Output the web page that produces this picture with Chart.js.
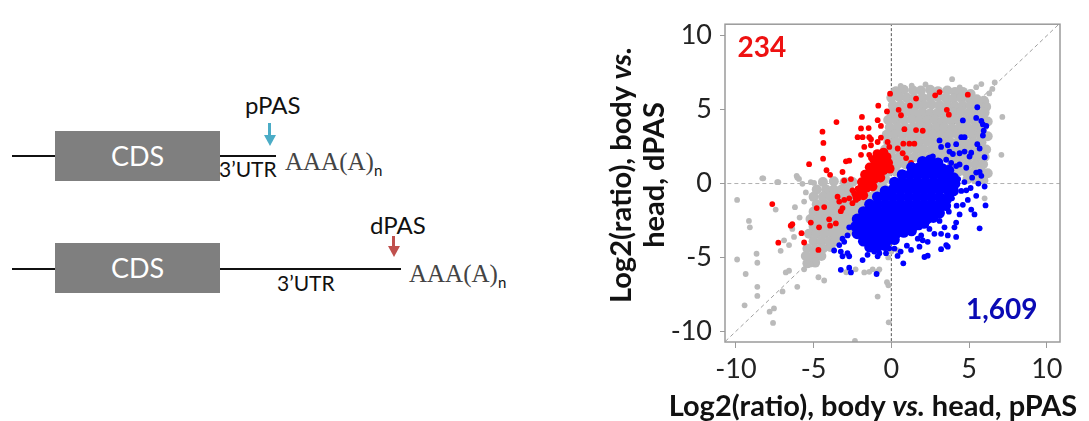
<!DOCTYPE html>
<html>
<head>
<meta charset="utf-8">
<script src="https://cdn.jsdelivr.net/npm/chart.js@4.4.0/dist/chart.umd.min.js"></script>
<style>
  body { margin: 0; width: 1089px; height: 421px; background: #fff; position: relative; overflow: hidden; font-family: Lato, "Open Sans", sans-serif; }
  .hline { position: absolute; height: 1.5px; background: #111; }
  .cds { position: absolute; width: 165px; height: 50px; background: #7f7f7f; color: #fff; font-size: 27px; line-height: 50px; text-align: center; }
  .utr { position: absolute; font-size: 21px; color: #111; line-height: 1; }
  .pas { position: absolute; font-size: 24px; color: #111; line-height: 1; }
  .polya { position: absolute; font-family: "Liberation Serif", "DejaVu Serif", serif; font-size: 25px; color: #444; line-height: 1; }
  .polya sub { font-family: Lato, sans-serif; font-size: 15px; color: #111; }
  .stem { position: absolute; width: 3px; }
  .head { position: absolute; width: 0; height: 0; border-left: 6px solid transparent; border-right: 6px solid transparent; }
  #chartBox { position: absolute; left: 580px; top: 0; width: 509px; height: 421px; }
  .axTitle { position: absolute; font-weight: bold; font-size: 29px; color: #111; white-space: nowrap; text-align: center; }
</style>
</head>
<body>

<!-- transcript diagram -->
<div class="hline" style="left:12px; top:155px; width:43px;"></div>
<div class="cds" style="left:55px; top:131px;">CDS</div>
<div class="hline" style="left:220px; top:155px; width:56px;"></div>
<div class="utr" style="left:219px; top:158px;">3’UTR</div>
<div class="pas" style="left:245px; top:93px;">pPAS</div>
<div class="stem" style="left:268px; top:123px; height:13px; background:#4bacc6;"></div>
<div class="head" style="left:263.5px; top:135px; border-top:11px solid #4bacc6;"></div>
<div class="polya" style="left:285px; top:149px;">AAA(A)<sub>n</sub></div>

<div class="hline" style="left:12px; top:268px; width:43px;"></div>
<div class="cds" style="left:55px; top:243px;">CDS</div>
<div class="hline" style="left:220px; top:268px; width:181px;"></div>
<div class="utr" style="left:277px; top:272px;">3’UTR</div>
<div class="pas" style="left:370px; top:213px;">dPAS</div>
<div class="stem" style="left:392px; top:236px; height:11px; background:#c0504d;"></div>
<div class="head" style="left:387.5px; top:246px; border-top:11px solid #c0504d;"></div>
<div class="polya" style="left:409px; top:261px;">AAA(A)<sub>n</sub></div>

<!-- scatter -->
<div id="chartBox"><canvas id="scatter"></canvas></div>
<div class="axTitle" style="left:486px; top:142px; width:300px; line-height:33px; transform:rotate(-90deg);">Log2(ratio), body <i>vs.</i><br>head, dPAS</div>
<div class="axTitle" style="left:873px; top:390px; transform:translateX(-50%); line-height:30px;">Log2(ratio), body <i>vs.</i> head, pPAS</div>

<script>
// axis ticks and counts
var xTicks = [-10, -5, 0, 5, 10];
var yTicks = [-10, -5, 0, 5, 10];
var upCount = "234";
var downCount = "1,609";

// dense gray cloud (drawn with bigger dots)
var grayCore = [
  [0.3,6.25],[0.8,6.35],[1.4,6.3],[1.9,6.3],[2.5,6.35],[3.0,6.25],[3.6,6.3],[4.1,6.2],[4.6,6.2],[5.1,6.05],
  [0.0,5.8],[0.5,5.85],[1.0,5.8],[1.5,5.75],[2.0,5.8],[2.5,5.8],[3.0,5.85],[3.5,5.8],[4.0,5.75],[4.5,5.8],[5.0,5.8],[5.5,5.7],[5.95,5.6],
  [0.1,5.3],[0.6,5.3],[1.1,5.25],[1.6,5.3],[2.1,5.3],[2.6,5.35],[3.1,5.3],[3.6,5.3],[4.1,5.25],[4.6,5.3],[5.1,5.3],[5.6,5.3],[6.1,5.2],
  [0.0,4.8],[0.5,4.8],[1.0,4.85],[1.5,4.8],[2.0,4.8],[2.5,4.75],[3.0,4.8],[3.5,4.8],[4.0,4.8],[4.5,4.85],[5.0,4.8],[5.5,4.8],[6.0,4.8],
  [-0.2,4.3],[0.3,4.3],[0.8,4.3],[1.3,4.35],[1.8,4.3],[2.3,4.3],[2.8,4.3],[3.3,4.25],[3.8,4.3],[4.3,4.3],[4.8,4.3],[5.3,4.3],[5.8,4.3],[6.2,4.2],
  [-0.1,3.8],[0.4,3.8],[0.9,3.8],[1.4,3.8],[1.9,3.85],[2.4,3.8],[2.9,3.8],[3.4,3.8],[3.9,3.75],[4.4,3.8],[4.9,3.8],[5.4,3.8],[5.9,3.8],
  [-0.3,3.3],[0.2,3.3],[0.7,3.3],[1.2,3.3],[1.7,3.25],[2.2,3.3],[2.7,3.3],[3.2,3.3],[3.7,3.3],[4.2,3.35],[4.7,3.3],[5.2,3.3],[5.7,3.3],[6.2,3.2],
  [-0.2,2.8],[0.3,2.8],[0.8,2.8],[1.3,2.8],[1.8,2.8],[2.3,2.85],[2.8,2.8],[3.3,2.8],[3.8,2.8],[4.3,2.8],[4.8,2.75],[5.3,2.8],[5.8,2.8],
  [-0.4,2.3],[0.1,2.3],[0.6,2.3],[1.1,2.3],[1.6,2.3],[2.1,2.3],[2.6,2.3],[3.1,2.25],[3.6,2.3],[4.1,2.3],[4.6,2.3],[5.1,2.3],[5.6,2.3],[6.1,2.3],
  [-0.5,1.8],[0.0,1.8],[0.5,1.8],[1.0,1.8],[1.5,1.8],[2.0,1.85],[2.5,1.8],[3.0,1.8],[3.5,1.8],[4.0,1.8],[4.5,1.8],[5.0,1.8],[5.5,1.8],[6.0,1.8],
  [-0.6,1.3],[-0.1,1.3],[0.4,1.3],[0.9,1.3],[3.9,1.3],[4.4,1.3],[4.9,1.3],[5.4,1.3],[5.9,1.3],
  [-0.7,0.8],[-0.2,0.8],[0.3,0.8],[4.3,0.8],[4.8,0.8],[5.3,0.8],[5.8,0.8],[6.2,0.7],
  [-0.9,0.3],[-0.4,0.3],[4.9,0.3],[5.4,0.3],[5.9,0.3],
  [-4.4,0.1],[-3.7,0.15],[-3.0,0.1],[-2.5,0.1],
  [-4.8,-0.4],[-4.2,-0.4],[-3.7,-0.4],[-3.2,-0.4],[-2.7,-0.4],[-1.0,-0.4],[-0.6,-0.2],
  [-5.0,-0.9],[-4.4,-0.9],[-3.9,-0.9],[-3.4,-0.9],[-2.9,-0.9],[-2.4,-0.9],[-1.9,-0.9],[-1.4,-0.9],[-0.9,-0.7],
  [-4.8,-1.4],[-4.3,-1.4],[-3.8,-1.4],[-3.3,-1.4],[-2.8,-1.4],[-2.3,-1.4],[-1.8,-1.4],[-1.4,-1.2],
  [-5.0,-1.9],[-4.5,-1.9],[-4.0,-1.9],[-3.5,-1.9],[-3.0,-1.9],[-2.5,-1.9],[-2.0,-1.8],
  [-5.2,-2.4],[-4.7,-2.4],[-4.2,-2.4],[-3.7,-2.4],[-3.2,-2.4],[-2.7,-2.4],
  [-5.0,-2.9],[-4.5,-2.9],[-4.0,-2.9],[-3.5,-2.9],[-3.0,-2.9],[-2.5,-2.8],
  [-5.3,-3.4],[-4.8,-3.4],[-4.3,-3.4],[-3.8,-3.4],[-3.3,-3.4],[-2.8,-3.3],
  [-5.0,-3.9],[-4.5,-3.9],[-4.0,-3.9],[-3.6,-3.9],
  [-5.4,-4.4],[-4.9,-4.4],[-4.4,-4.4],[-3.9,-4.3],
  [-5.5,-4.9],[-5.0,-4.9],[-4.5,-4.9],
  [-5.4,-5.4],[-4.9,-5.35]
];

// single gray points
var grayPts = [
  [-9.92,-1.11],[-9.16,-2.53],[-9.1,-2.96],[-9.92,-5.14],[-8.67,-4.75],[-8.62,-5.36],[-9.37,-6.12],[-8.62,-6.99],
  [-7.27,0.09],[-8.24,0.35],[-7.44,-1.76],[-6.9,-3.84],[-6.26,-3.61],[-5.61,-1.22],[-6.05,0.41],[-5.72,-0.02],
  [-5.18,0.09],[-6.37,-3.07],[-6.58,-4.16],[-6.79,-6.01],[-6.58,-5.9],[-5.61,-5.8],[-4.69,-6.34],[-4.32,-6.56],
  [-7.12,-4.55],[-5.08,-4.6],[-5.29,-5.03],[-4.86,-5.36],[-5.18,-5.47],[-6.05,-6.99],[-7.0,-7.3],
  [-1.2,-5.8],[-0.88,-5.95],[-1.74,-6.01],[-1.42,-5.97],[-0.28,-6.67],[-0.19,-6.88],[-0.88,-7.65],[-0.77,-5.8],
  [-9.44,-8.24],[-8.62,-7.6],[-7.83,-8.67],[-7.55,-8.45],[-7.61,-9.43],[-0.17,-9.39],[-2.34,-10.65],
  [-8.3,0.35],[-7.34,0.09],[-6.09,0.52],[-5.94,0.31],[-4.97,0.04],[-5.5,-0.6],[-6.2,-1.6],[-5.9,-2.3],
  [1.31,6.62],[3.91,7.06],[5.46,6.52],[5.79,6.73],[6.65,6.84],[6.3,6.1],[6.5,6.4],[7.14,4.51],[7.08,1.94],
  [6.11,5.54],[6.06,0.2],[6.0,-1.0],[0.0,-4.6],[0.4,-4.5],[-0.2,-5.0],[-2.9,-6.0],[-2.3,-5.8],
  [-1.6,-1.4],[-1.2,-1.0],[-0.8,-0.6],[-0.4,-0.2],[0.0,0.2],[-2.0,-1.6],[2.2,6.7],[0.6,6.6],[4.4,6.5]
];

// dense red cluster
var redCore = [
  [-2.2,-0.9],[-1.8,-0.8],[-2.0,-0.4],[-1.6,-0.3],[-1.2,-0.2],[-1.9,0.1],[-1.5,0.2],[-1.1,0.3],[-0.7,0.4],
  [-1.7,0.6],[-1.3,0.7],[-0.9,0.8],[-0.5,0.9],[-1.4,1.1],[-1.0,1.2],[-0.6,1.3],[-0.2,1.4],[-1.1,1.6],
  [-0.7,1.7],[-0.3,1.8],[-0.9,2.0],[-0.5,2.1],[-0.1,1.0]
];

// single red points
var redPts = [
  [-0.08,6.08],[-0.84,5.27],[-0.28,4.88],[-3.53,4.16],[-1.89,4.51],[-0.88,4.29],[-0.67,3.9],[-1.95,3.73],
  [-1.46,3.75],[-4.43,3.51],[-2.17,3.14],[-1.85,3.14],[-1.42,3.14],[-1.31,3.0],[-0.67,3.1],[-4.37,2.75],
  [-1.74,2.48],[-1.31,2.59],[-0.88,2.81],[-0.24,2.81],[-0.13,2.48],[-4.39,1.68],[-5.29,1.31],[-2.92,1.5],
  [-2.71,1.55],[-1.95,1.94],[-1.42,1.94],[-1.31,1.72],[-4.17,0.9],[-3.94,0.59],[-3.14,0.78],[-3.03,0.2],
  [-2.6,0.3],[-2.5,-0.46],
  [2.82,5.97],[3.1,6.19],[4.92,6.01],[3.57,4.99],[3.7,4.66],[1.2,5.27],[1.59,5.75],[0.47,4.99],[0.62,4.62],
  [0.84,3.68],[1.59,3.62],[2.02,3.57],[0.77,2.7],[1.16,2.7],[1.48,2.7],[0.41,2.37],[0.73,2.05],[0.95,1.72],[1.27,1.39],
  [-7.66,-1.39],[-7.27,-4.0],[-6.37,-2.75],[-6.47,-2.85],[-5.78,-3.36],[-5.61,-3.99],[-5.18,-2.64],[-4.65,-2.96],
  [-4.69,-4.49],[-4.0,-2.42],[-3.94,-2.85],[-3.57,-2.7],[-4.8,-1.66],[-4.32,-1.59],[-3.46,-0.89],[-3.35,-1.22],
  [-3.14,-1.66],[-3.25,-1.87],[-3.03,-1.11],[-2.71,-1.0],[-2.5,-1.33],[-2.28,-1.11],[-2.17,-0.35],[-1.95,-0.46],
  [-2.39,-0.67],[-1.74,-0.13]
];

// dense blue cluster
var blueCore = [
  [2.0,1.5],[2.5,1.6],[3.0,1.4],
  [1.3,1.1],[1.8,1.1],[2.3,1.1],[2.8,1.1],[3.3,1.0],[3.7,0.9],
  [0.7,0.6],[1.2,0.6],[1.7,0.6],[2.2,0.6],[2.7,0.6],[3.2,0.6],[3.7,0.5],[4.0,0.4],
  [0.2,0.1],[0.7,0.1],[1.2,0.1],[1.7,0.1],[2.2,0.1],[2.7,0.1],[3.2,0.1],[3.7,0.1],[4.1,0.0],
  [-0.4,-0.5],[0.1,-0.4],[0.6,-0.4],[1.1,-0.4],[1.6,-0.4],[2.1,-0.4],[2.6,-0.4],[3.1,-0.4],[3.6,-0.4],[4.0,-0.5],
  [-0.9,-0.9],[-0.4,-0.9],[0.1,-0.9],[0.6,-0.9],[1.1,-0.9],[1.6,-0.9],[2.1,-0.9],[2.6,-0.9],[3.1,-0.9],[3.6,-1.0],
  [-1.4,-1.4],[-0.9,-1.4],[-0.4,-1.4],[0.1,-1.4],[0.6,-1.4],[1.1,-1.4],[1.6,-1.4],[2.1,-1.4],[2.6,-1.4],[3.1,-1.4],[3.5,-1.5],
  [-1.8,-1.9],[-1.3,-1.9],[-0.8,-1.9],[-0.3,-1.9],[0.2,-1.9],[0.7,-1.9],[1.2,-1.9],[1.7,-1.9],[2.2,-1.9],[2.7,-1.9],[3.1,-2.0],
  [-2.2,-2.4],[-1.7,-2.4],[-1.2,-2.4],[-0.7,-2.4],[-0.2,-2.4],[0.3,-2.4],[0.8,-2.4],[1.3,-2.4],[1.8,-2.4],[2.3,-2.4],[2.7,-2.3],
  [-2.3,-2.9],[-1.8,-2.9],[-1.3,-2.9],[-0.8,-2.9],[-0.3,-2.9],[0.2,-2.9],[0.7,-2.9],[1.2,-2.9],[1.7,-2.8],[2.1,-2.7],
  [-2.2,-3.4],[-1.7,-3.4],[-1.2,-3.4],[-0.7,-3.4],[-0.2,-3.4],[0.3,-3.4],[0.8,-3.3],[1.3,-3.2],
  [-1.8,-3.9],[-1.3,-3.9],[-0.8,-3.9],[-0.3,-3.9],[0.2,-3.8],
  [-1.4,-4.3],[-0.9,-4.3],[-0.4,-4.2]
];

// single blue points
var bluePts = [
  [5.53,5.16],[4.6,4.27],[5.46,4.44],[5.79,4.23],[5.89,4.0],[6.11,3.9],[5.94,3.57],[5.89,3.25],[4.5,3.14],
  [4.71,3.14],[3.1,2.92],[3.2,2.48],[3.63,2.59],[4.17,2.66],[5.53,2.66],[5.68,2.37],[3.74,2.16],[3.96,2.0],
  [4.39,2.05],[4.71,2.16],[5.14,2.09],[5.03,1.83],[6.0,1.78],[2.67,1.83],[2.45,1.39],[3.1,1.5],[3.53,1.61],
  [3.85,1.39],[4.17,1.18],[4.39,1.29],[4.82,1.07],[5.46,0.74],[5.68,0.78],[5.79,0.52],
  [4.3,0.3],[4.7,0.1],[5.2,0.4],[5.6,0.0],[6.0,-0.2],[4.5,-0.5],[5.1,-0.3],[3.9,-1.0],[4.2,-1.5],[3.7,-1.9],[4.0,-0.3],
  [6.06,-1.48],[5.68,-3.03],[5.46,-0.83],[4.82,-0.46],[4.92,-1.11],[4.6,-1.44],[5.14,-1.76],[5.35,-2.09],
  [4.39,-2.09],[4.17,-2.64],[4.06,-2.96],[4.17,-3.61],[3.63,-3.51],[3.42,-2.96],[3.1,-2.53],[3.53,-4.16],
  [3.63,-4.27],[3.2,-4.44],[2.77,-3.4],[3.2,-3.4],[2.34,-3.94],[2.02,-3.84],[1.92,-3.51],[1.81,-4.27],
  [2.13,-4.97],[2.34,-4.88],[1.27,-4.49],[0.77,-5.4],[1.7,-3.73],[1.38,-3.29],[1.81,-2.96],[2.45,-3.07],
  [0.2,-4.4],[0.6,-4.6],[1.0,-4.2],[0.4,-4.9],
  [-3.25,-5.84],[-2.71,-5.69],[-2.6,-6.01],[-0.95,-6.12],[-3.68,-4.53],[-3.25,-4.6],[-2.82,-4.71],[-2.71,-4.92],
  [-3.14,-4.92],[-1.85,-5.18],[-1.53,-4.82],[-0.88,-4.92],[-0.77,-4.71],[-0.34,-4.71],[-0.13,-4.38],[-3.35,-4.16],
  [-3.03,-3.94],[-2.82,-3.51],[-3.14,-3.73],[-2.71,-2.96],[-2.28,-3.29],[-1.1,-4.6]
];

function pts(a) {
  return a.map(function (p) { return { x: p[0], y: p[1] }; });
}

var tickFont = { family: "Lato", size: 27 };

// frame round the plot + the two counts
var framePlugin = {
  id: "frame",
  afterDatasetsDraw: function (chart) {
    var a = chart.chartArea;
    var ctx = chart.ctx;
    var sx = chart.scales.x, sy = chart.scales.y;
    ctx.save();
    ctx.strokeStyle = "#9a9a9a";
    ctx.lineWidth = 1.5;
    ctx.strokeRect(a.left, a.top, a.right - a.left, a.bottom - a.top);
    ctx.font = "bold 28px Lato";
    ctx.textBaseline = "middle";
    ctx.fillStyle = "#ee1111";
    ctx.textAlign = "left";
    ctx.fillText(upCount, sx.getPixelForValue(-9.9), sy.getPixelForValue(9.2));
    ctx.fillStyle = "#0a0ab4";
    ctx.textAlign = "right";
    ctx.fillText(downCount, sx.getPixelForValue(9.4), sy.getPixelForValue(-8.56));
    ctx.restore();
  }
};

new Chart(document.getElementById("scatter").getContext("2d"), {
  type: "scatter",
  data: {
    datasets: [
      { data: pts(bluePts), backgroundColor: "#0000ff", pointRadius: 2.9, borderWidth: 0 },
      { data: pts(blueCore), backgroundColor: "#0000ff", pointRadius: 5.4, borderWidth: 0 },
      { data: pts(redPts), backgroundColor: "#ff0000", pointRadius: 2.9, borderWidth: 0 },
      { data: pts(redCore), backgroundColor: "#ff0000", pointRadius: 4.8, borderWidth: 0 },
      { data: pts(grayPts), backgroundColor: "#bababa", pointRadius: 2.9, borderWidth: 0 },
      { data: pts(grayCore), backgroundColor: "#bababa", pointRadius: 5.0, borderWidth: 0 },
      // guide lines
      { type: "line", data: [{ x: -11, y: -11 }, { x: 11, y: 11 }], borderColor: "#a0a0a0", borderWidth: 1, borderDash: [4, 3], pointRadius: 0 },
      { type: "line", data: [{ x: -11, y: 0 }, { x: 11, y: 0 }], borderColor: "#b0b0b0", borderWidth: 1, borderDash: [4, 3], pointRadius: 0 },
      { type: "line", data: [{ x: 0, y: -11 }, { x: 0, y: 11 }], borderColor: "#555", borderWidth: 1, borderDash: [3, 2], pointRadius: 0 }
    ]
  },
  options: {
    responsive: true,
    maintainAspectRatio: false,
    animation: false,
    layout: { padding: { top: 13, right: 29, left: 0, bottom: 0 } },
    plugins: { legend: { display: false }, tooltip: { enabled: false } },
    scales: {
      x: {
        type: "linear",
        min: -10.7,
        max: 10.85,
        afterBuildTicks: function (s) { s.ticks = xTicks.map(function (v) { return { value: v }; }); },
        afterFit: function (s) { s.height = 79; },
        ticks: { font: tickFont, color: "#222", padding: 5, maxRotation: 0 },
        grid: { drawOnChartArea: false, tickLength: 6, color: "#9a9a9a" },
        border: { display: false }
      },
      y: {
        type: "linear",
        min: -10.72,
        max: 10.78,
        afterBuildTicks: function (s) { s.ticks = yTicks.map(function (v) { return { value: v }; }); },
        afterFit: function (s) { s.width = 145; },
        ticks: { font: tickFont, color: "#222", padding: 8 },
        grid: { drawOnChartArea: false, tickLength: 5, color: "#9a9a9a" },
        border: { display: false }
      }
    }
  },
  plugins: [framePlugin]
});
</script>
</body>
</html>
